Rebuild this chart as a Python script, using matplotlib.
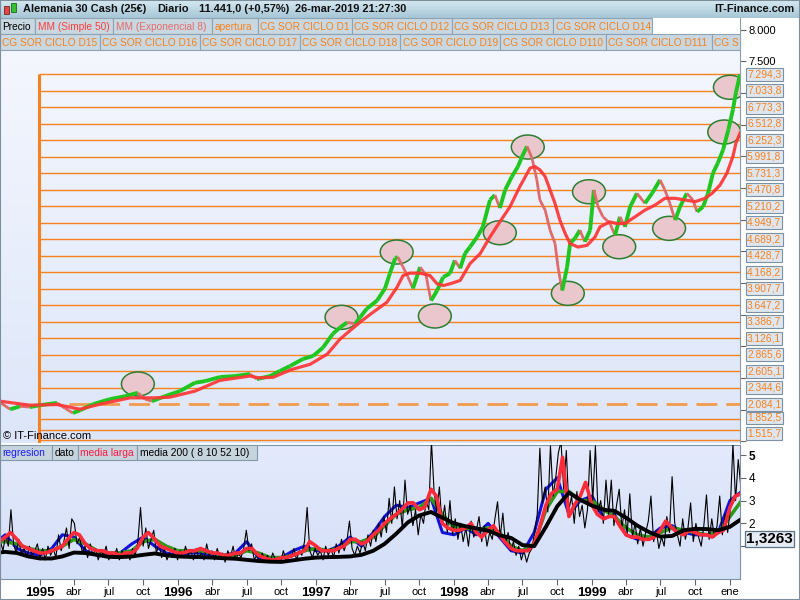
import numpy as np
import pandas as pd
import matplotlib
matplotlib.use('Agg')
import matplotlib.pyplot as plt
import matplotlib.dates as mdates
from matplotlib.patches import Rectangle, Ellipse
from matplotlib.collections import LineCollection

plt.rcParams['font.family'] = ['Liberation Sans', 'DejaVu Sans']
plt.rcParams['lines.scale_dashes'] = False

# ---- datos del precio ----
precio_fechas = [
    '1994-09-17', '1994-10-14', '1994-11-09', '1994-12-05', '1995-01-01', '1995-02-15',
    '1995-03-08', '1995-03-29', '1995-04-17', '1995-05-21', '1995-07-05', '1995-08-14',
    '1995-09-17', '1995-10-06', '1995-10-24', '1995-11-28', '1996-01-06', '1996-02-15',
    '1996-03-13', '1996-04-21', '1996-05-31', '1996-07-10', '1996-07-28', '1996-09-01',
    '1996-09-27', '1996-10-24', '1996-11-27', '1996-12-24', '1997-01-19', '1997-02-14',
    '1997-03-05', '1997-03-24', '1997-04-14', '1997-04-27', '1997-05-15', '1997-06-11',
    '1997-07-02', '1997-07-15', '1997-07-29', '1997-08-05', '1997-08-19', '1997-09-01',
    '1997-09-14', '1997-10-03', '1997-10-19', '1997-10-24', '1997-11-01', '1997-11-17',
    '1997-12-03', '1997-12-21', '1998-01-03', '1998-01-17', '1998-01-30', '1998-02-12',
    '1998-03-03', '1998-03-18', '1998-04-06', '1998-04-19', '1998-05-02', '1998-05-16',
    '1998-06-03', '1998-06-19', '1998-06-30', '1998-07-13', '1998-07-26', '1998-08-08',
    '1998-08-16', '1998-08-30', '1998-09-12', '1998-09-25', '1998-10-03', '1998-10-14',
    '1998-10-27', '1998-11-04', '1998-11-17', '1998-11-30', '1998-12-13', '1998-12-27',
    '1999-01-06', '1999-01-17', '1999-01-30', '1999-02-17', '1999-03-03', '1999-03-16',
    '1999-03-29', '1999-04-12', '1999-04-30', '1999-05-21', '1999-06-09', '1999-06-30',
    '1999-07-13', '1999-07-26', '1999-08-09', '1999-08-22', '1999-09-09', '1999-09-25',
    '1999-10-06', '1999-10-22', '1999-11-04', '1999-11-17', '1999-11-30', '1999-12-14',
    '1999-12-28', '2000-01-09', '2000-01-17', '2000-01-28']
precio_valores = [
    2115, 2005, 2053, 2040, 2070, 2106,
    2022, 1947, 1990, 2085, 2165, 2212,
    2265, 2165, 2133, 2212, 2292, 2424,
    2450, 2514, 2530, 2562, 2482, 2530,
    2610, 2689, 2800, 2848, 2980, 3197,
    3297, 3377, 3356, 3456, 3594, 3721,
    3912, 4150, 4388, 4410, 4250, 4092,
    3912, 4250, 4120, 3950, 3721, 3880,
    4092, 4150, 4356, 4230, 4467, 4567,
    4726, 4885, 5310, 5388, 5182, 5468,
    5680, 5838, 5997, 6156, 5976, 5627,
    5310, 5150, 4833, 4626, 4250, 3880,
    4250, 4626, 4706, 4833, 4650, 4833,
    5468, 5203, 5044, 4944, 4753, 5044,
    4885, 5203, 5415, 5257, 5415, 5627,
    5468, 5257, 4992, 5203, 5415, 5310,
    5124, 5203, 5415, 5733, 5892, 6103,
    6421, 6738, 7008, 7294]

# media movil simple 50
mm_fechas = [
    '1994-09-17', '1994-12-05', '1995-02-15', '1995-04-17', '1995-06-08', '1995-08-27',
    '1995-11-01', '1995-12-11', '1996-02-15', '1996-04-21', '1996-07-10', '1996-07-31',
    '1996-09-09', '1996-10-26', '1996-12-16', '1997-01-30', '1997-03-05', '1997-03-31',
    '1997-05-02', '1997-05-31', '1997-07-07', '1997-08-03', '1997-08-19', '1997-09-06',
    '1997-10-03', '1997-10-29', '1997-11-17', '1997-12-03', '1997-12-21', '1998-01-17',
    '1998-02-12', '1998-03-11', '1998-04-06', '1998-05-02', '1998-05-29', '1998-06-24',
    '1998-07-21', '1998-08-03', '1998-08-16', '1998-08-30', '1998-09-12', '1998-09-25',
    '1998-10-08', '1998-10-22', '1998-11-04', '1998-11-25', '1998-12-19', '1999-01-09',
    '1999-01-22', '1999-02-17', '1999-03-08', '1999-03-29', '1999-04-25', '1999-05-21',
    '1999-06-17', '1999-07-13', '1999-08-09', '1999-09-04', '1999-10-01', '1999-10-27',
    '1999-11-15', '1999-12-06', '1999-12-24', '2000-01-09', '2000-01-17', '2000-01-28']
mm_valores = [
    2133, 2070, 2080, 2006, 2085, 2186,
    2186, 2197, 2292, 2462, 2530, 2503,
    2510, 2630, 2716, 2875, 3113, 3245,
    3404, 3535, 3694, 3933, 4118, 4155,
    4155, 4118, 3986, 3959, 3986, 4039,
    4304, 4463, 4726, 4964, 5203, 5521,
    5813, 5838, 5786, 5680, 5468, 5257,
    4992, 4780, 4621, 4567, 4594, 4726,
    4885, 4964, 4938, 4938, 5044, 5150,
    5230, 5336, 5336, 5310, 5283, 5336,
    5415, 5547, 5733, 5997, 6209, 6368]

# niveles CG SOR CICLO
niveles = [7294.3, 7033.8, 6773.3, 6512.8, 6252.3, 5991.8, 5731.3, 5470.8, 5210.2, 4949.7,
           4689.2, 4428.7, 4168.2, 3907.7, 3647.2, 3386.7, 3126.1, 2865.6, 2605.1, 2344.6]
nivel_apertura = 2084.1
niveles_bajos = [1852.5, 1680.0, 1515.7]
etiquetas_bajas = ['1.852,5', '', '1.515,7']

# circulos marcados
circ_fechas = ['1995-09-17', '1997-03-09', '1997-08-02', '1997-11-11', '1998-05-02', '1998-07-15',
               '1998-10-29', '1998-12-24', '1999-03-14', '1999-07-24', '1999-12-17', '2000-01-01']
circ_valores = [2405, 3457, 4488, 3478, 4793, 6146, 3836, 5440, 4572, 4862, 6383, 7089]

# ---- panel inferior ----
# dato: valores semanales desde 1994-09-18
dato = [
    1.2, 0.8, 1.5, 1.0, 2.6, 1.1, 0.7, 1.3, 0.6, 0.9,
    0.5, 1.0, 0.6, 0.8, 1.1, 0.5, 0.9, 0.4, 1.0, 0.6,
    0.9, 0.5, 1.5, 0.8, 1.2, 1.8, 0.9, 2.2, 2.0, 1.1,
    1.4, 0.7, 1.0, 0.5, 1.1, 0.6, 0.9, 0.4, 0.8, 0.6,
    1.0, 0.4, 0.7, 0.5, 0.9, 0.4, 0.8, 0.5, 0.7, 0.4,
    0.9, 0.6, 1.2, 2.7, 1.0, 1.8, 0.9, 1.3, 1.7, 0.7,
    1.1, 0.5, 0.9, 0.4, 0.7, 0.5, 0.9, 0.4, 0.8, 0.5,
    1.0, 0.6, 0.8, 0.4, 0.9, 0.5, 0.7, 0.4, 1.1, 0.6,
    0.8, 0.4, 0.9, 0.5, 0.7, 0.3, 0.8, 0.5, 1.0, 0.4,
    0.7, 0.5, 0.9, 1.7, 0.8, 1.1, 0.4, 0.6, 0.3, 0.7,
    0.4, 0.6, 0.3, 0.7, 0.4, 0.5, 0.3, 0.8, 0.4, 0.6,
    0.5, 0.9, 0.4, 0.8, 0.6, 1.2, 2.7, 0.8, 0.5, 0.9,
    0.6, 0.8, 0.4, 1.0, 0.6, 0.9, 0.5, 1.1, 0.7, 1.3,
    0.8, 1.2, 2.1, 0.9, 0.6, 1.0, 0.7, 1.2, 0.8, 1.5,
    1.0, 1.7, 1.2, 2.0, 1.4, 2.3, 1.6, 3.1, 2.0, 3.6,
    2.2, 3.0, 1.8, 3.9, 2.4, 2.8, 1.9, 2.6, 1.5, 2.4,
    2.0, 3.0, 2.6, 5.6, 3.4, 2.5, 3.6, 2.0, 2.8, 1.6,
    3.0, 1.5, 2.2, 1.3, 2.0, 1.2, 1.8, 1.0, 2.1, 1.4,
    1.7, 2.3, 1.2, 1.9, 1.0, 1.6, 1.3, 2.2, 2.95, 1.4,
    2.45, 1.1, 1.6, 0.8, 1.2, 0.6, 1.0, 0.4, 0.8, 0.3,
    0.7, 0.9, 1.6, 2.4, 5.3, 2.9, 3.6, 2.5, 5.4, 3.2,
    4.0, 5.1, 5.6, 3.5, 5.2, 2.6, 3.2, 2.0, 3.4, 2.3,
    2.8, 1.8, 2.6, 5.2, 3.0, 5.4, 2.5, 3.0, 2.0, 3.9,
    2.4, 3.9, 1.9, 2.8, 3.5, 1.8, 2.6, 1.5, 3.3, 1.4,
    2.0, 1.1, 1.8, 1.0, 1.6, 2.1, 3.2, 1.2, 1.7, 0.9,
    1.4, 1.0, 2.3, 1.6, 4.05, 2.0, 1.5, 1.0, 2.2, 1.3,
    1.8, 2.9, 1.2, 2.0, 1.4, 1.0, 1.9, 3.25, 1.3, 2.2,
    1.4, 1.9, 3.2, 1.5, 2.4, 1.6, 2.6, 5.5, 3.0, 4.8,
    3.6]
# media larga: valores quincenales desde 1994-09-15
media_larga = [
    1.2, 1.4, 1.6, 1.3, 1.0, 0.9, 0.8, 0.7, 0.7, 0.8, 0.9, 1.0, 1.3, 1.6, 1.5, 1.1,
    0.9, 0.8, 0.8, 0.7, 0.7, 0.6, 0.7, 0.7, 0.9, 1.4, 1.6, 1.3, 1.0, 0.9, 0.8, 0.7,
    0.7, 0.8, 0.8, 0.9, 0.8, 0.7, 0.7, 0.6, 0.6, 0.7, 0.7, 0.9, 0.9, 0.6, 0.5, 0.4,
    0.4, 0.5, 0.5, 0.6, 0.7, 0.8, 1.2, 1.0, 0.8, 0.8, 0.8, 0.9, 1.0, 1.3, 1.3, 1.1,
    1.2, 1.5, 1.7, 2.0, 2.2, 2.4, 2.6, 2.9, 2.9, 2.6, 2.7, 3.5, 3.2, 2.0, 1.8, 1.7,
    1.7, 1.8, 2.0, 1.6, 1.4, 1.7, 1.9, 1.5, 1.2, 0.9, 0.8, 0.8, 0.8, 1.1, 1.8, 2.8,
    3.3, 3.5, 4.9, 2.3, 2.8, 3.2, 3.8, 2.8, 2.4, 2.2, 2.3, 2.3, 1.9, 1.5, 1.4, 1.4,
    1.3, 1.3, 1.4, 1.7, 2.1, 1.8, 1.6, 1.5, 1.7, 1.6, 1.5, 1.5, 1.4, 1.6, 1.7, 2.7,
    3.2, 3.3]
# mensuales desde 1994-09-01
regresion = [
    1.1, 1.5, 0.9, 0.7, 0.6, 0.9, 1.5, 1.4, 0.8, 0.6, 0.6, 0.7,
    1.1, 1.4, 1.0, 0.7, 0.6, 0.7, 0.7, 0.6, 0.6, 0.7, 1.2, 0.5,
    0.4, 0.5, 0.8, 1.0, 0.8, 0.8, 1.0, 1.4, 1.0, 1.6, 2.3, 2.8,
    2.7, 2.9, 3.1, 1.6, 1.5, 1.8, 1.5, 2.0, 1.4, 0.8, 0.7, 1.6,
    3.5, 4.0, 2.4, 3.0, 3.2, 2.2, 2.4, 1.5, 1.3, 1.4, 1.8, 1.9,
    1.6, 1.5, 1.5, 1.6, 3.0, 3.4]
media_corta = [
    1.2, 1.2, 1.1, 0.9, 0.8, 0.8, 1.0, 1.3, 1.1, 0.8, 0.7, 0.7,
    0.8, 1.2, 1.3, 1.0, 0.8, 0.8, 0.8, 0.7, 0.6, 0.6, 0.8, 0.7,
    0.5, 0.5, 0.6, 0.8, 0.9, 0.8, 0.9, 1.2, 1.2, 1.4, 1.9, 2.4,
    2.6, 2.7, 3.1, 2.4, 1.8, 1.8, 1.7, 1.8, 1.6, 1.0, 0.8, 1.1,
    2.6, 3.4, 3.4, 3.0, 3.0, 2.6, 2.3, 1.8, 1.5, 1.4, 1.6, 1.8,
    1.7, 1.6, 1.5, 1.6, 2.3, 3.0]
media_200 = [
    0.70, 0.75, 0.70, 0.55, 0.46, 0.46, 0.55, 0.72, 0.70, 0.62, 0.53, 0.52,
    0.55, 0.62, 0.68, 0.60, 0.55, 0.53, 0.52, 0.50, 0.47, 0.45, 0.40, 0.35,
    0.32, 0.31, 0.38, 0.45, 0.50, 0.52, 0.53, 0.55, 0.62, 0.80, 1.10, 1.55,
    2.05, 2.35, 2.50, 2.25, 2.00, 1.87, 1.78, 1.68, 1.48, 1.36, 1.05, 1.00,
    1.85, 2.75, 3.35, 3.03, 2.78, 2.60, 2.55, 2.25, 1.90, 1.62, 1.42, 1.45,
    1.70, 1.76, 1.75, 1.70, 1.85, 2.20]
ultimo_valor = 1.3263

tick_fechas = ['1995-01-01', '1995-04-01', '1995-07-01', '1995-10-01',
               '1996-01-01', '1996-04-01', '1996-07-01', '1996-10-01',
               '1997-01-01', '1997-04-01', '1997-07-01', '1997-10-01',
               '1998-01-01', '1998-04-01', '1998-07-01', '1998-10-01',
               '1999-01-01', '1999-04-01', '1999-07-01', '1999-10-01', '2000-01-01']
tick_etiquetas = ['1995', 'abr', 'jul', 'oct', '1996', 'abr', 'jul', 'oct',
                  '1997', 'abr', 'jul', 'oct', '1998', 'abr', 'jul', 'oct',
                  '1999', 'abr', 'jul', 'oct', 'ene']

leyenda_fila1 = [('Precio', 'black'), ('MM (Simple 50)', '#ff3c3c'), ('MM (Exponencial 8)', '#e36b6b'),
                 ('apertura', '#f5821f'), ('CG SOR CICLO D1', '#f5821f'), ('CG SOR CICLO D12', '#f5821f'),
                 ('CG SOR CICLO D13', '#f5821f'), ('CG SOR CICLO D14', '#f5821f')]
leyenda_fila2 = ['CG SOR CICLO D15', 'CG SOR CICLO D16', 'CG SOR CICLO D17', 'CG SOR CICLO D18',
                 'CG SOR CICLO D19', 'CG SOR CICLO D110', 'CG SOR CICLO D111', 'CG S']
leyenda_inferior = [('regresion', '#1a1aff'), ('dato', 'black'), ('media larga', '#ff1744'),
                    ('media 200 ( 8 10 52 10)', 'black')]


def num(fechas):
    return mdates.date2num(pd.to_datetime(fechas))


def formato(v):
    return f"{v:,.1f}".replace(',', 'X').replace('.', ',').replace('X', '.')


W, H = 800, 600
NARANJA = '#f5821f'
fig = plt.figure(figsize=(8, 6), dpi=100)
fig.patch.set_facecolor('white')


def caja(x0, y0, x1, y1, fc, ec, lw=0.8, z=1):
    fig.add_artist(Rectangle((x0 / W, 1 - y1 / H), (x1 - x0) / W, (y1 - y0) / H,
                             transform=fig.transFigure, fc=fc, ec=ec, lw=lw, zorder=z))


def texto(x, y, s, **kw):
    fig.text(x / W, 1 - y / H, s, va='center', **kw)


def fondo(a, arriba, abajo):
    g = np.linspace(0, 1, 200)[:, None, None]
    c = np.array(arriba)[None, None, :] * (1 - g) + np.array(abajo)[None, None, :] * g
    a.imshow(c / 255.0, extent=[0, 1, 0, 1], transform=a.transAxes, aspect='auto',
             zorder=0, interpolation='bilinear')


x_ini = mdates.date2num(pd.Timestamp('1994-09-17 02:00'))
x_fin = mdates.date2num(pd.Timestamp('2000-01-27 17:00'))
x_niveles = mdates.date2num(pd.Timestamp('1994-12-28'))

# ---- panel de precio ----
ax = fig.add_axes([0, 1 - 443 / H, 740 / W, (443 - 18) / H])
fondo(ax, (246, 248, 254), (221, 230, 249))

ax.hlines(niveles, x_niveles, x_fin, colors=NARANJA, lw=1.0, zorder=2)
ax.hlines(niveles_bajos, x_niveles, x_fin, colors=NARANJA, lw=1.0, zorder=2)
ax.hlines([nivel_apertura], x_niveles, x_fin, colors='#f29b4c', lw=2.0,
          linestyles=[(0, (15, 6.5))], zorder=2)
ax.vlines([x_niveles], 1400, niveles[0], colors=NARANJA, lw=2.2, zorder=2)

for f, v in zip(num(circ_fechas), circ_valores):
    ax.add_patch(Ellipse((f, v), 87, 379, fc='#e9c7cd', ec='#2f7d32', lw=1.1, zorder=3))

px = num(precio_fechas)
py = np.array(precio_valores, dtype=float)
segs = [[(px[i], py[i]), (px[i + 1], py[i + 1])] for i in range(len(px) - 1)]
sube = [py[i + 1] >= py[i] for i in range(len(px) - 1)]
lc = LineCollection(segs, colors=['#1fc61f' if s else '#df6b6b' for s in sube],
                    linewidths=[2.8 if s else 2.0 for s in sube], zorder=4, capstyle='butt')
ax.add_collection(lc)

ax.plot(num(mm_fechas), mm_valores, color='#ff3535', lw=2.3, alpha=0.92, zorder=5)

ax.set_xlim(x_ini, x_fin)
ax.set_ylim(1473, 8183)
ax.yaxis.tick_right()
yt = np.arange(1500, 8001, 500)
ax.set_yticks(yt)
ax.set_yticklabels(['7.500' if t == 7500 else '8.000' if t == 8000 else '' for t in yt])
ax.tick_params(axis='y', length=4, width=0.8, color='#666666', pad=2, labelsize=8)
ax.tick_params(axis='x', bottom=False, labelbottom=False)
for s in ['top', 'left', 'bottom']:
    ax.spines[s].set_visible(False)
ax.spines['right'].set_color('#8a9bab')

caja_etq = dict(boxstyle='square,pad=0.13', fc='#dfe6ef', ec='#7c91a4', lw=0.8)
for v in niveles + [nivel_apertura]:
    ax.annotate(formato(v), xy=(1, v), xycoords=('axes fraction', 'data'), xytext=(7, 0),
                textcoords='offset pixels', ha='left', va='center', fontsize=7.4, color=NARANJA,
                bbox=caja_etq, annotation_clip=False, zorder=6)
for v, t, dy in zip(niveles_bajos, etiquetas_bajas, [1, 0, 7]):
    if t:
        ax.annotate(t, xy=(1, v), xycoords=('axes fraction', 'data'), xytext=(7, dy),
                    textcoords='offset pixels', ha='left', va='center', fontsize=7.4, color=NARANJA,
                    bbox=caja_etq, annotation_clip=False, zorder=6)

ax.text(0.004, 0.017, '© IT-Finance.com', transform=ax.transAxes, fontsize=8,
        va='center', ha='left', zorder=7)

# ---- panel inferior ----
ax2 = fig.add_axes([0, 1 - 579 / H, 740 / W, (579 - 445) / H])
fondo(ax2, (228, 234, 252), (212, 223, 248))
sem = num(pd.date_range('1994-09-18', periods=len(dato), freq='7D'))
sm = num(pd.date_range('1994-09-15', periods=len(media_larga), freq='SMS'))
mes = num(pd.date_range('1994-09-01', periods=len(media_200), freq='MS'))

ax2.plot(mes, regresion, color='#1010e0', lw=2.2, zorder=2)
ax2.plot(mes, media_corta, color='#2e9a1a', lw=2.6, zorder=2)
ax2.plot(sem, dato, color='black', lw=0.8, zorder=3)
ax2.plot(sm, media_larga, color='#ff2a3a', lw=2.6, zorder=4)
ax2.plot(mes, media_200, color='black', lw=2.8, zorder=5)

ax2.set_xlim(x_ini, x_fin)
ax2.set_ylim(-0.44, 5.44)
ax2.yaxis.tick_right()
ax2.set_yticks([1, 2, 3, 4, 5])
ax2.set_yticklabels(['', '2', '3', '4', '5'])
ax2.get_yticklabels()[4].set_fontweight('bold')
ax2.tick_params(axis='y', length=4, width=0.8, color='#666666', pad=2, labelsize=8.5)
ax2.set_xticks(num(tick_fechas))
ax2.set_xticklabels(tick_etiquetas)
ax2.tick_params(axis='x', length=4, width=0.8, color='#666666', pad=2, labelsize=8)
for lbl in ax2.get_xticklabels():
    if lbl.get_text().isdigit():
        lbl.set_fontweight('bold')
        lbl.set_fontsize(9.5)
for s in ax2.spines.values():
    s.set_color('#7f93a5')

ax2.annotate(f"{ultimo_valor:.4f}".replace('.', ','),
             xy=(1, ultimo_valor), xycoords=('axes fraction', 'data'), xytext=(6, 0),
             textcoords='offset pixels', ha='left', va='center', fontsize=11, fontweight='bold',
             bbox=dict(boxstyle='square,pad=0.08', fc='#e6ecf4', ec='#5d7388', lw=0.9),
             annotation_clip=False, zorder=6)

# ---- barra de titulo ----
axt = fig.add_axes([0, 1 - 18 / H, 1, 18 / H])
fondo(axt, (214, 233, 241), (166, 198, 214))
axt.set_xlim(0, 1)
axt.set_ylim(0, 1)
axt.axis('off')
caja(4, 6, 9, 14, '#e04848', '#7a2020', 0.6, 2)
caja(11, 3, 16, 12, '#34c234', '#1a6a1a', 0.6, 2)
tit = dict(fontsize=7.9, fontweight='bold', color='#111111')
texto(23, 9.5, 'Alemania 30 Cash (25€)', **tit)
texto(157, 9.5, 'Diario', **tit)
texto(199, 9.5, '11.441,0 (+0,57%)', **tit)
texto(295, 9.5, '26-mar-2019 21:27:30', **tit)
texto(794, 9.5, 'IT-Finance.com', ha='right', **tit)

# ---- leyendas ----
caja(0, 18, 740, 50, 'white', 'none', 0, 1)
bordes1 = [0, 35, 113, 212, 258, 352, 452, 553, 652]
for (t, c), a, b in zip(leyenda_fila1, bordes1[:-1], bordes1[1:]):
    caja(a, 18, b, 34, '#c9d7e1', '#8ea3b3')
    texto(a + 2.5, 26.5, t, fontsize=7.3, color=c)
bordes2 = [0, 100, 200, 300, 400, 500, 606, 712, 740]
for t, a, b in zip(leyenda_fila2, bordes2[:-1], bordes2[1:]):
    caja(a, 34, b, 50, '#c9d7e1', '#8ea3b3')
    texto(a + 2.5, 42.5, t, fontsize=7.3, color=NARANJA)
bordes3 = [0, 52, 78, 137, 257]
for (t, c), a, b in zip(leyenda_inferior, bordes3[:-1], bordes3[1:]):
    caja(a, 445, b, 460, '#c6d4de', '#8398a8')
    texto(a + 2.5, 452.5, t, fontsize=7.4, color=c)

fig.add_artist(Rectangle((0, 0), 1, 1, transform=fig.transFigure, fill=False,
                         ec='#7d8e9c', lw=1.5, zorder=10))

fig.savefig('out.png', dpi=100)
